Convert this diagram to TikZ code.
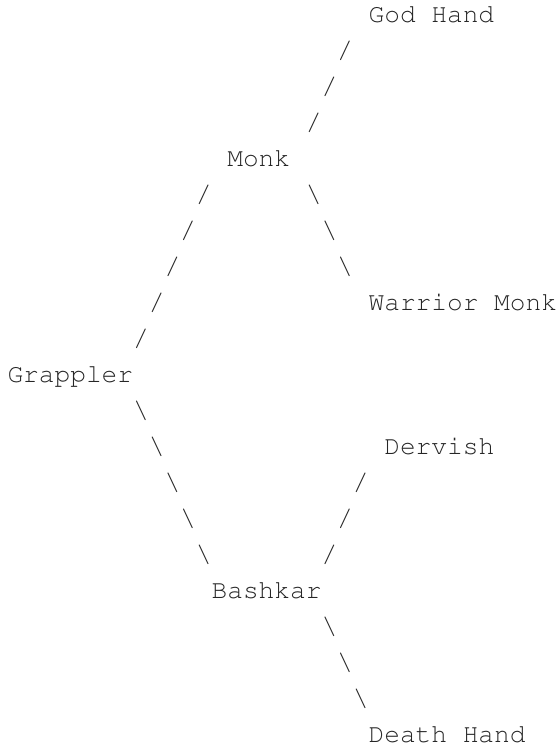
\documentclass[tikz,border=0pt]{standalone}
\usepackage[T1]{fontenc}
\begin{document}
\begin{tikzpicture}[x=1pt,y=1pt]
  \useasboundingbox (0,0) rectangle (559,749);
  % character grid: one column = 15.7pt, one text line = 36pt
  \begin{scope}[shift={(7.5pt,726pt)},x=15.7pt,y=-36pt,
    glyph/.style={font=\fontencoding{T1}\fontfamily{pcr}\fontsize{26.17pt}{36pt}\selectfont,
      inner sep=0pt, outer sep=0pt, anchor=base west, text=black!85}]
    % class names
    \node[glyph] (godhand)   at (23,0)  {God Hand};
    \node[glyph] (monk)      at (14,4)  {Monk};
    \node[glyph] (warrior)   at (23,8)  {Warrior Monk};
    \node[glyph] (grappler)  at (0,10)  {Grappler};
    \node[glyph] (dervish)   at (24,12) {Dervish};
    \node[glyph] (bashkar)   at (13,16) {Bashkar};
    \node[glyph] (deathhand) at (23,20) {Death Hand};
    % branches, one slash per text line
    \foreach \r in {5,...,9}   \node[glyph] (gm\r) at ({17-\r},\r) {/};  % Grappler -> Monk
    \foreach \r in {1,...,3}   \node[glyph] (mg\r) at ({22-\r},\r) {/};  % Monk -> God Hand
    \foreach \r in {5,...,7}   \node[glyph] (mw\r) at ({\r+14},\r) {\textbackslash}; % Monk -> Warrior Monk
    \foreach \r in {11,...,15} \node[glyph] (gb\r) at ({\r-3},\r)  {\textbackslash}; % Grappler -> Bashkar
    \foreach \r in {13,...,15} \node[glyph] (bd\r) at ({35-\r},\r) {/};  % Bashkar -> Dervish
    \foreach \r in {17,...,19} \node[glyph] (bh\r) at ({\r+3},\r)  {\textbackslash}; % Bashkar -> Death Hand
  \end{scope}
\end{tikzpicture}
\end{document}
